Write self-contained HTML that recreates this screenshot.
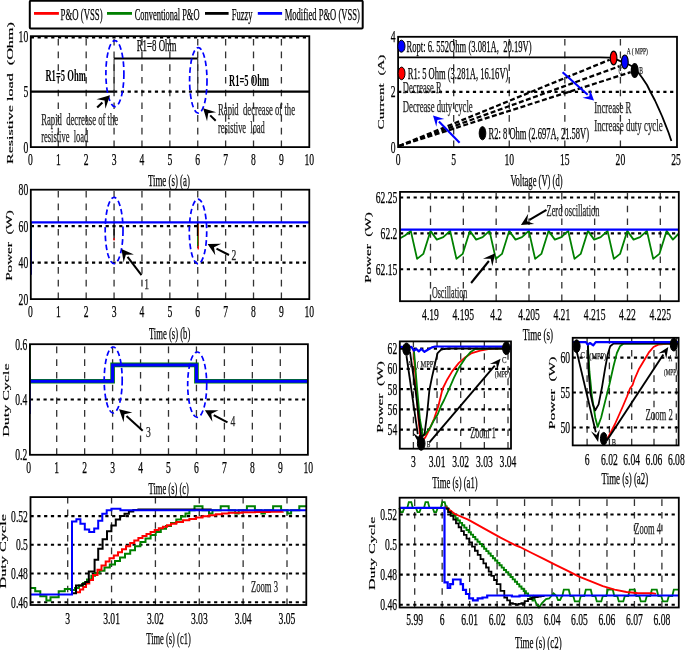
<!DOCTYPE html><html><head><meta charset="utf-8"><style>html,body{margin:0;padding:0;background:#fff;}svg{display:block;will-change:transform;}text{font-family:"Liberation Serif", serif;white-space:pre;}</style></head><body>
<svg width="685" height="650" viewBox="0 0 685 650">
<rect width="685" height="650" fill="#fff"/>
<rect x="29.8" y="0.8" width="332.9" height="27.8" rx="1" fill="#fff" stroke="#000" stroke-width="2"/>
<line x1="34" y1="13.4" x2="58.9" y2="13.4" stroke="#f00" stroke-width="2.8" stroke-linecap="butt"/>
<text x="60.6" y="20.1" font-size="16" font-weight="normal" fill="#000" stroke="#000" stroke-width="0.25" textLength="42" lengthAdjust="spacingAndGlyphs">P&amp;O (VSS)</text>
<line x1="107" y1="13.4" x2="132" y2="13.4" stroke="#008000" stroke-width="2.8" stroke-linecap="butt"/>
<text x="134.7" y="20.1" font-size="16" font-weight="normal" fill="#000" stroke="#000" stroke-width="0.25" textLength="64.8" lengthAdjust="spacingAndGlyphs">Conventional P&amp;O</text>
<line x1="205" y1="13.4" x2="228.6" y2="13.4" stroke="#000" stroke-width="2.8" stroke-linecap="butt"/>
<text x="231.8" y="20.1" font-size="16" font-weight="normal" fill="#000" stroke="#000" stroke-width="0.25" textLength="20.8" lengthAdjust="spacingAndGlyphs">Fuzzy</text>
<line x1="257.8" y1="13.4" x2="282.1" y2="13.4" stroke="#00f" stroke-width="2.8" stroke-linecap="butt"/>
<text x="284.7" y="20.1" font-size="16" font-weight="normal" fill="#000" stroke="#000" stroke-width="0.25" textLength="75.1" lengthAdjust="spacingAndGlyphs">Modified P&amp;O (VSS)</text>
<line x1="58.29" y1="147.1" x2="58.29" y2="36.2" stroke="#333" stroke-width="1.3" stroke-dasharray="6.6 6.1" stroke-linecap="butt"/>
<line x1="86.18" y1="147.1" x2="86.18" y2="36.2" stroke="#333" stroke-width="1.3" stroke-dasharray="6.6 6.1" stroke-linecap="butt"/>
<line x1="114.07" y1="147.1" x2="114.07" y2="36.2" stroke="#333" stroke-width="1.3" stroke-dasharray="6.6 6.1" stroke-linecap="butt"/>
<line x1="141.96" y1="147.1" x2="141.96" y2="36.2" stroke="#333" stroke-width="1.3" stroke-dasharray="6.6 6.1" stroke-linecap="butt"/>
<line x1="169.85" y1="147.1" x2="169.85" y2="36.2" stroke="#333" stroke-width="1.3" stroke-dasharray="6.6 6.1" stroke-linecap="butt"/>
<line x1="197.74" y1="147.1" x2="197.74" y2="36.2" stroke="#333" stroke-width="1.3" stroke-dasharray="6.6 6.1" stroke-linecap="butt"/>
<line x1="225.63" y1="147.1" x2="225.63" y2="36.2" stroke="#333" stroke-width="1.3" stroke-dasharray="6.6 6.1" stroke-linecap="butt"/>
<line x1="253.52" y1="147.1" x2="253.52" y2="36.2" stroke="#333" stroke-width="1.3" stroke-dasharray="6.6 6.1" stroke-linecap="butt"/>
<line x1="281.41" y1="147.1" x2="281.41" y2="36.2" stroke="#333" stroke-width="1.3" stroke-dasharray="6.6 6.1" stroke-linecap="butt"/>
<line x1="114.07" y1="91.65" x2="197.74" y2="91.65" stroke="#000" stroke-width="2.1" stroke-dasharray="3.2 3.6" stroke-linecap="butt"/>
<line x1="30.8" y1="37.8" x2="309.3" y2="37.8" stroke="#000" stroke-width="1.6" stroke-dasharray="3.2 3.6" stroke-linecap="butt"/>
<line x1="30.8" y1="91.65" x2="114.07" y2="91.65" stroke="#000" stroke-width="2.2" stroke-linecap="butt"/>
<line x1="114.07" y1="91.65" x2="114.07" y2="58.38" stroke="#333" stroke-width="1.1" stroke-linecap="butt"/>
<line x1="114.07" y1="58.38" x2="197.74" y2="58.38" stroke="#000" stroke-width="2" stroke-linecap="butt"/>
<line x1="197.74" y1="58.38" x2="197.74" y2="91.65" stroke="#333" stroke-width="1.1" stroke-linecap="butt"/>
<line x1="197.74" y1="91.65" x2="309.3" y2="91.65" stroke="#000" stroke-width="2.2" stroke-linecap="butt"/>
<rect x="30.8" y="36.2" width="278.5" height="110.9" fill="none" stroke="#000" stroke-width="1.8"/>
<ellipse cx="114.9" cy="73.6" rx="9" ry="33" fill="none" stroke="#00f" stroke-width="1.7" stroke-dasharray="5.5 3.2"/>
<ellipse cx="198.3" cy="80.4" rx="8.7" ry="32.8" fill="none" stroke="#00f" stroke-width="1.7" stroke-dasharray="5.5 3.2"/>
<line x1="97.2" y1="107.5" x2="102.4" y2="102.54" stroke="#000" stroke-width="2.2" stroke-linecap="butt"/>
<polygon points="110,95.3 105.44,108.63 104.57,100.47 96.47,99.22" fill="#000"/>
<line x1="215.7" y1="120.8" x2="210.2" y2="115.34" stroke="#000" stroke-width="2" stroke-linecap="butt"/>
<polygon points="203.1,108.3 216.2,112.14 208.21,113.37 207.04,121.37" fill="#000"/>
<text x="45.4" y="80.7" font-size="16" font-weight="bold" fill="#000" textLength="40.4" lengthAdjust="spacingAndGlyphs">R1=5 Ohm</text>
<g stroke="#000" stroke-width="0.3">
<text x="136.7" y="51" font-size="16" font-weight="normal" fill="#000" stroke="#000" stroke-width="0.25" textLength="39.7" lengthAdjust="spacingAndGlyphs">R1=8 Ohm</text>
</g>
<text x="229.1" y="85.7" font-size="16" font-weight="bold" fill="#000" textLength="39.9" lengthAdjust="spacingAndGlyphs">R1=5 Ohm</text>
<text x="41.2" y="124.5" font-size="16" font-weight="normal" fill="#222" stroke="#222" stroke-width="0.25" textLength="76.9" lengthAdjust="spacingAndGlyphs">Rapid&#160;&#160;decrease of the</text>
<text x="41.2" y="141.8" font-size="16" font-weight="normal" fill="#222" stroke="#222" stroke-width="0.25" textLength="47.1" lengthAdjust="spacingAndGlyphs">resistive&#160;&#160;load</text>
<text x="218" y="114.5" font-size="16" font-weight="normal" fill="#222" stroke="#222" stroke-width="0.25" textLength="77" lengthAdjust="spacingAndGlyphs">Rapid&#160;&#160;decrease of the</text>
<text x="218" y="133.3" font-size="16" font-weight="normal" fill="#222" stroke="#222" stroke-width="0.25" textLength="46.8" lengthAdjust="spacingAndGlyphs">resistive&#160;&#160;load</text>
<text x="28" y="164.9" font-size="16" font-weight="normal" fill="#000" stroke="#000" stroke-width="0.25" textLength="4.8" lengthAdjust="spacingAndGlyphs">0</text>
<text x="55.89" y="164.9" font-size="16" font-weight="normal" fill="#000" stroke="#000" stroke-width="0.25" textLength="4.8" lengthAdjust="spacingAndGlyphs">1</text>
<text x="83.78" y="164.9" font-size="16" font-weight="normal" fill="#000" stroke="#000" stroke-width="0.25" textLength="4.8" lengthAdjust="spacingAndGlyphs">2</text>
<text x="111.67" y="164.9" font-size="16" font-weight="normal" fill="#000" stroke="#000" stroke-width="0.25" textLength="4.8" lengthAdjust="spacingAndGlyphs">3</text>
<text x="139.56" y="164.9" font-size="16" font-weight="normal" fill="#000" stroke="#000" stroke-width="0.25" textLength="4.8" lengthAdjust="spacingAndGlyphs">4</text>
<text x="167.45" y="164.9" font-size="16" font-weight="normal" fill="#000" stroke="#000" stroke-width="0.25" textLength="4.8" lengthAdjust="spacingAndGlyphs">5</text>
<text x="195.34" y="164.9" font-size="16" font-weight="normal" fill="#000" stroke="#000" stroke-width="0.25" textLength="4.8" lengthAdjust="spacingAndGlyphs">6</text>
<text x="223.23" y="164.9" font-size="16" font-weight="normal" fill="#000" stroke="#000" stroke-width="0.25" textLength="4.8" lengthAdjust="spacingAndGlyphs">7</text>
<text x="251.12" y="164.9" font-size="16" font-weight="normal" fill="#000" stroke="#000" stroke-width="0.25" textLength="4.8" lengthAdjust="spacingAndGlyphs">8</text>
<text x="279.01" y="164.9" font-size="16" font-weight="normal" fill="#000" stroke="#000" stroke-width="0.25" textLength="4.8" lengthAdjust="spacingAndGlyphs">9</text>
<text x="304.5" y="164.9" font-size="16" font-weight="normal" fill="#000" stroke="#000" stroke-width="0.25" textLength="9.6" lengthAdjust="spacingAndGlyphs">10</text>
<text x="23.4" y="152.5" font-size="16" font-weight="normal" fill="#000" stroke="#000" stroke-width="0.25" textLength="4.8" lengthAdjust="spacingAndGlyphs">0</text>
<text x="23.4" y="97.05" font-size="16" font-weight="normal" fill="#000" stroke="#000" stroke-width="0.25" textLength="4.8" lengthAdjust="spacingAndGlyphs">5</text>
<text x="18.6" y="41.6" font-size="16" font-weight="normal" fill="#000" stroke="#000" stroke-width="0.25" textLength="9.6" lengthAdjust="spacingAndGlyphs">10</text>
<text x="147.9" y="185.8" font-size="16" font-weight="normal" fill="#000" stroke="#000" stroke-width="0.25" textLength="42" lengthAdjust="spacingAndGlyphs">Time (s) (a)</text>
<text transform="translate(13,164.1) scale(0.47,1) rotate(-90)" x="0" y="0" font-size="16" font-weight="normal" stroke="#000" stroke-width="0.3" textLength="141.9" lengthAdjust="spacingAndGlyphs">Resistive&#160;load&#160;&#160;(Ohm)</text>
<line x1="58.29" y1="299.1" x2="58.29" y2="189.7" stroke="#333" stroke-width="1.3" stroke-dasharray="6.6 6.1" stroke-linecap="butt"/>
<line x1="86.18" y1="299.1" x2="86.18" y2="189.7" stroke="#333" stroke-width="1.3" stroke-dasharray="6.6 6.1" stroke-linecap="butt"/>
<line x1="114.07" y1="299.1" x2="114.07" y2="189.7" stroke="#333" stroke-width="1.3" stroke-dasharray="6.6 6.1" stroke-linecap="butt"/>
<line x1="141.96" y1="299.1" x2="141.96" y2="189.7" stroke="#333" stroke-width="1.3" stroke-dasharray="6.6 6.1" stroke-linecap="butt"/>
<line x1="169.85" y1="299.1" x2="169.85" y2="189.7" stroke="#333" stroke-width="1.3" stroke-dasharray="6.6 6.1" stroke-linecap="butt"/>
<line x1="197.74" y1="299.1" x2="197.74" y2="189.7" stroke="#333" stroke-width="1.3" stroke-dasharray="6.6 6.1" stroke-linecap="butt"/>
<line x1="225.63" y1="299.1" x2="225.63" y2="189.7" stroke="#333" stroke-width="1.3" stroke-dasharray="6.6 6.1" stroke-linecap="butt"/>
<line x1="253.52" y1="299.1" x2="253.52" y2="189.7" stroke="#333" stroke-width="1.3" stroke-dasharray="6.6 6.1" stroke-linecap="butt"/>
<line x1="281.41" y1="299.1" x2="281.41" y2="189.7" stroke="#333" stroke-width="1.3" stroke-dasharray="6.6 6.1" stroke-linecap="butt"/>
<line x1="30.8" y1="262.63" x2="309.3" y2="262.63" stroke="#000" stroke-width="2.1" stroke-dasharray="3.2 3.6" stroke-linecap="butt"/>
<line x1="30.8" y1="226.17" x2="309.3" y2="226.17" stroke="#000" stroke-width="2.1" stroke-dasharray="3.2 3.6" stroke-linecap="butt"/>
<line x1="114.07" y1="222.3" x2="114.07" y2="240" stroke="#000" stroke-width="1.3" stroke-linecap="butt"/>
<line x1="114.07" y1="238" x2="114.07" y2="240.5" stroke="#f00" stroke-width="1.3" stroke-linecap="butt"/>
<line x1="198.24" y1="222.3" x2="198.24" y2="249.4" stroke="#f00" stroke-width="1.3" stroke-linecap="butt"/>
<line x1="197.74" y1="222.3" x2="197.74" y2="246" stroke="#008000" stroke-width="1.3" stroke-linecap="butt"/>
<line x1="197.44" y1="222.3" x2="197.44" y2="236" stroke="#000" stroke-width="1.2" stroke-linecap="butt"/>
<line x1="31.2" y1="274.7" x2="31.2" y2="222.3" stroke="#00f" stroke-width="1.3" stroke-linecap="butt"/>
<line x1="31.2" y1="222.3" x2="31.2" y2="249" stroke="#1a5a6a" stroke-width="1.3" stroke-linecap="butt"/>
<line x1="30.8" y1="222.3" x2="309.3" y2="222.3" stroke="#00f" stroke-width="2.2" stroke-linecap="butt"/>
<rect x="30.8" y="189.7" width="278.5" height="109.4" fill="none" stroke="#000" stroke-width="1.8"/>
<ellipse cx="114.1" cy="230.5" rx="8.9" ry="33.2" fill="none" stroke="#00f" stroke-width="1.7" stroke-dasharray="5.5 3.2"/>
<ellipse cx="198" cy="231.5" rx="8.7" ry="32.3" fill="none" stroke="#00f" stroke-width="1.7" stroke-dasharray="5.5 3.2"/>
<line x1="141.5" y1="275.2" x2="127.55" y2="256.86" stroke="#000" stroke-width="2" stroke-linecap="butt"/>
<polygon points="121.5,248.9 133.94,254.52 125.86,254.63 123.59,262.39" fill="#000"/>
<line x1="229" y1="255" x2="216.49" y2="248.57" stroke="#000" stroke-width="2" stroke-linecap="butt"/>
<polygon points="207.6,244 221.24,243.7 214,247.29 215.3,255.27" fill="#000"/>
<text x="144.2" y="289.2" font-size="15" font-weight="normal" fill="#222" stroke="#222" stroke-width="0.25" textLength="4.8" lengthAdjust="spacingAndGlyphs">1</text>
<text x="231.6" y="259.5" font-size="15" font-weight="normal" fill="#222" stroke="#222" stroke-width="0.25" textLength="4.8" lengthAdjust="spacingAndGlyphs">2</text>
<text x="28" y="316.9" font-size="16" font-weight="normal" fill="#000" stroke="#000" stroke-width="0.25" textLength="4.8" lengthAdjust="spacingAndGlyphs">0</text>
<text x="55.89" y="316.9" font-size="16" font-weight="normal" fill="#000" stroke="#000" stroke-width="0.25" textLength="4.8" lengthAdjust="spacingAndGlyphs">1</text>
<text x="83.78" y="316.9" font-size="16" font-weight="normal" fill="#000" stroke="#000" stroke-width="0.25" textLength="4.8" lengthAdjust="spacingAndGlyphs">2</text>
<text x="111.67" y="316.9" font-size="16" font-weight="normal" fill="#000" stroke="#000" stroke-width="0.25" textLength="4.8" lengthAdjust="spacingAndGlyphs">3</text>
<text x="139.56" y="316.9" font-size="16" font-weight="normal" fill="#000" stroke="#000" stroke-width="0.25" textLength="4.8" lengthAdjust="spacingAndGlyphs">4</text>
<text x="167.45" y="316.9" font-size="16" font-weight="normal" fill="#000" stroke="#000" stroke-width="0.25" textLength="4.8" lengthAdjust="spacingAndGlyphs">5</text>
<text x="195.34" y="316.9" font-size="16" font-weight="normal" fill="#000" stroke="#000" stroke-width="0.25" textLength="4.8" lengthAdjust="spacingAndGlyphs">6</text>
<text x="223.23" y="316.9" font-size="16" font-weight="normal" fill="#000" stroke="#000" stroke-width="0.25" textLength="4.8" lengthAdjust="spacingAndGlyphs">7</text>
<text x="251.12" y="316.9" font-size="16" font-weight="normal" fill="#000" stroke="#000" stroke-width="0.25" textLength="4.8" lengthAdjust="spacingAndGlyphs">8</text>
<text x="279.01" y="316.9" font-size="16" font-weight="normal" fill="#000" stroke="#000" stroke-width="0.25" textLength="4.8" lengthAdjust="spacingAndGlyphs">9</text>
<text x="304.5" y="316.9" font-size="16" font-weight="normal" fill="#000" stroke="#000" stroke-width="0.25" textLength="9.6" lengthAdjust="spacingAndGlyphs">10</text>
<text x="18.6" y="304.5" font-size="16" font-weight="normal" fill="#000" stroke="#000" stroke-width="0.25" textLength="9.6" lengthAdjust="spacingAndGlyphs">20</text>
<text x="18.6" y="268.03" font-size="16" font-weight="normal" fill="#000" stroke="#000" stroke-width="0.25" textLength="9.6" lengthAdjust="spacingAndGlyphs">40</text>
<text x="18.6" y="231.57" font-size="16" font-weight="normal" fill="#000" stroke="#000" stroke-width="0.25" textLength="9.6" lengthAdjust="spacingAndGlyphs">60</text>
<text x="18.6" y="195.1" font-size="16" font-weight="normal" fill="#000" stroke="#000" stroke-width="0.25" textLength="9.6" lengthAdjust="spacingAndGlyphs">80</text>
<text x="148.9" y="338.6" font-size="16" font-weight="normal" fill="#000" stroke="#000" stroke-width="0.25" textLength="41.4" lengthAdjust="spacingAndGlyphs">Time (s) (b)</text>
<text transform="translate(12.2,280.8) scale(0.47,1) rotate(-90)" x="0" y="0" font-size="16" font-weight="normal" stroke="#000" stroke-width="0.3" textLength="70.6" lengthAdjust="spacingAndGlyphs">Power&#160;&#160;(W)</text>
<line x1="56.7" y1="454.8" x2="56.7" y2="344.2" stroke="#333" stroke-width="1.3" stroke-dasharray="6.6 6.1" stroke-linecap="butt"/>
<line x1="84.65" y1="454.8" x2="84.65" y2="344.2" stroke="#333" stroke-width="1.3" stroke-dasharray="6.6 6.1" stroke-linecap="butt"/>
<line x1="112.6" y1="454.8" x2="112.6" y2="344.2" stroke="#333" stroke-width="1.3" stroke-dasharray="6.6 6.1" stroke-linecap="butt"/>
<line x1="140.55" y1="454.8" x2="140.55" y2="344.2" stroke="#333" stroke-width="1.3" stroke-dasharray="6.6 6.1" stroke-linecap="butt"/>
<line x1="168.5" y1="454.8" x2="168.5" y2="344.2" stroke="#333" stroke-width="1.3" stroke-dasharray="6.6 6.1" stroke-linecap="butt"/>
<line x1="196.45" y1="454.8" x2="196.45" y2="344.2" stroke="#333" stroke-width="1.3" stroke-dasharray="6.6 6.1" stroke-linecap="butt"/>
<line x1="224.4" y1="454.8" x2="224.4" y2="344.2" stroke="#333" stroke-width="1.3" stroke-dasharray="6.6 6.1" stroke-linecap="butt"/>
<line x1="252.35" y1="454.8" x2="252.35" y2="344.2" stroke="#333" stroke-width="1.3" stroke-dasharray="6.6 6.1" stroke-linecap="butt"/>
<line x1="280.3" y1="454.8" x2="280.3" y2="344.2" stroke="#333" stroke-width="1.3" stroke-dasharray="6.6 6.1" stroke-linecap="butt"/>
<line x1="29.9" y1="399.5" x2="307.9" y2="399.5" stroke="#000" stroke-width="2.1" stroke-dasharray="3.2 3.6" stroke-linecap="butt"/>
<polyline points="29.9,381.2 112.6,381.2 112.6,364.9 196.45,364.9 196.45,381.2 307.9,381.2" fill="none" stroke="#008000" stroke-width="4.6" stroke-linejoin="miter"/>
<line x1="197.25" y1="366" x2="197.25" y2="380" stroke="#f00" stroke-width="1" stroke-linecap="butt"/>
<polyline points="29.9,381.3 112.6,381.3 112.6,365.1 196.45,365.1 196.45,381.3 307.9,381.3" fill="none" stroke="#00f" stroke-width="3" stroke-linejoin="miter"/>
<line x1="30.1" y1="414" x2="30.1" y2="373.5" stroke="#00f" stroke-width="1.3" stroke-linecap="butt"/>
<line x1="30.1" y1="345" x2="30.1" y2="379" stroke="#008000" stroke-width="1.3" stroke-linecap="butt"/>
<rect x="29.9" y="344.2" width="278" height="110.6" fill="none" stroke="#000" stroke-width="1.8"/>
<ellipse cx="113.2" cy="380" rx="9" ry="33" fill="none" stroke="#00f" stroke-width="1.7" stroke-dasharray="5.5 3.2"/>
<ellipse cx="197.2" cy="384.7" rx="9.5" ry="32.7" fill="none" stroke="#00f" stroke-width="1.7" stroke-dasharray="5.5 3.2"/>
<line x1="142.7" y1="430.8" x2="126.49" y2="416.03" stroke="#000" stroke-width="2" stroke-linecap="butt"/>
<polygon points="119.1,409.3 132.35,412.58 124.42,414.15 123.59,422.19" fill="#000"/>
<line x1="227.5" y1="422.4" x2="213.72" y2="415.02" stroke="#000" stroke-width="2" stroke-linecap="butt"/>
<polygon points="204.9,410.3 218.55,410.23 211.25,413.7 212.41,421.69" fill="#000"/>
<text x="146" y="436.6" font-size="15" font-weight="normal" fill="#222" stroke="#222" stroke-width="0.25" textLength="4.8" lengthAdjust="spacingAndGlyphs">3</text>
<text x="230.6" y="426" font-size="15" font-weight="normal" fill="#222" stroke="#222" stroke-width="0.25" textLength="4.8" lengthAdjust="spacingAndGlyphs">4</text>
<text x="26.35" y="472.6" font-size="16" font-weight="normal" fill="#000" stroke="#000" stroke-width="0.25" textLength="4.8" lengthAdjust="spacingAndGlyphs">0</text>
<text x="54.3" y="472.6" font-size="16" font-weight="normal" fill="#000" stroke="#000" stroke-width="0.25" textLength="4.8" lengthAdjust="spacingAndGlyphs">1</text>
<text x="82.25" y="472.6" font-size="16" font-weight="normal" fill="#000" stroke="#000" stroke-width="0.25" textLength="4.8" lengthAdjust="spacingAndGlyphs">2</text>
<text x="110.2" y="472.6" font-size="16" font-weight="normal" fill="#000" stroke="#000" stroke-width="0.25" textLength="4.8" lengthAdjust="spacingAndGlyphs">3</text>
<text x="138.15" y="472.6" font-size="16" font-weight="normal" fill="#000" stroke="#000" stroke-width="0.25" textLength="4.8" lengthAdjust="spacingAndGlyphs">4</text>
<text x="166.1" y="472.6" font-size="16" font-weight="normal" fill="#000" stroke="#000" stroke-width="0.25" textLength="4.8" lengthAdjust="spacingAndGlyphs">5</text>
<text x="194.05" y="472.6" font-size="16" font-weight="normal" fill="#000" stroke="#000" stroke-width="0.25" textLength="4.8" lengthAdjust="spacingAndGlyphs">6</text>
<text x="222" y="472.6" font-size="16" font-weight="normal" fill="#000" stroke="#000" stroke-width="0.25" textLength="4.8" lengthAdjust="spacingAndGlyphs">7</text>
<text x="249.95" y="472.6" font-size="16" font-weight="normal" fill="#000" stroke="#000" stroke-width="0.25" textLength="4.8" lengthAdjust="spacingAndGlyphs">8</text>
<text x="277.9" y="472.6" font-size="16" font-weight="normal" fill="#000" stroke="#000" stroke-width="0.25" textLength="4.8" lengthAdjust="spacingAndGlyphs">9</text>
<text x="303.45" y="472.6" font-size="16" font-weight="normal" fill="#000" stroke="#000" stroke-width="0.25" textLength="9.6" lengthAdjust="spacingAndGlyphs">10</text>
<text x="15.3" y="460.2" font-size="16" font-weight="normal" fill="#000" stroke="#000" stroke-width="0.25" textLength="12" lengthAdjust="spacingAndGlyphs">0.2</text>
<text x="15.3" y="404.9" font-size="16" font-weight="normal" fill="#000" stroke="#000" stroke-width="0.25" textLength="12" lengthAdjust="spacingAndGlyphs">0.4</text>
<text x="15.3" y="349.6" font-size="16" font-weight="normal" fill="#000" stroke="#000" stroke-width="0.25" textLength="12" lengthAdjust="spacingAndGlyphs">0.6</text>
<text x="148.5" y="493.7" font-size="16" font-weight="normal" fill="#000" stroke="#000" stroke-width="0.25" textLength="40.4" lengthAdjust="spacingAndGlyphs">Time (s) (c)</text>
<text transform="translate(8.7,436.8) scale(0.47,1) rotate(-90)" x="0" y="0" font-size="16" font-weight="normal" stroke="#000" stroke-width="0.3" textLength="73.3" lengthAdjust="spacingAndGlyphs">Duty&#160;Cycle</text>
<line x1="67.7" y1="605" x2="67.7" y2="497.1" stroke="#333" stroke-width="1.3" stroke-dasharray="6.6 6.1" stroke-linecap="butt"/>
<line x1="111.56" y1="605" x2="111.56" y2="497.1" stroke="#333" stroke-width="1.3" stroke-dasharray="6.6 6.1" stroke-linecap="butt"/>
<line x1="155.42" y1="605" x2="155.42" y2="497.1" stroke="#333" stroke-width="1.3" stroke-dasharray="6.6 6.1" stroke-linecap="butt"/>
<line x1="199.28" y1="605" x2="199.28" y2="497.1" stroke="#333" stroke-width="1.3" stroke-dasharray="6.6 6.1" stroke-linecap="butt"/>
<line x1="243.14" y1="605" x2="243.14" y2="497.1" stroke="#333" stroke-width="1.3" stroke-dasharray="6.6 6.1" stroke-linecap="butt"/>
<line x1="287" y1="605" x2="287" y2="497.1" stroke="#333" stroke-width="1.3" stroke-dasharray="6.6 6.1" stroke-linecap="butt"/>
<line x1="30.5" y1="602.2" x2="306.3" y2="602.2" stroke="#000" stroke-width="2.1" stroke-dasharray="3.2 3.6" stroke-linecap="butt"/>
<line x1="30.5" y1="573.5" x2="306.3" y2="573.5" stroke="#000" stroke-width="2.1" stroke-dasharray="3.2 3.6" stroke-linecap="butt"/>
<line x1="30.5" y1="544.8" x2="306.3" y2="544.8" stroke="#000" stroke-width="2.1" stroke-dasharray="3.2 3.6" stroke-linecap="butt"/>
<line x1="30.5" y1="516.1" x2="306.3" y2="516.1" stroke="#000" stroke-width="2.1" stroke-dasharray="3.2 3.6" stroke-linecap="butt"/>
<polyline points="30.6,588.1 35.2,588.1 35.2,591.2 40.3,591.2 40.3,596.3 46.4,596.3 46.4,600.4 50.5,600.4 50.5,597.3 58.7,597.3 58.7,591.2 64.8,591.2 64.8,589.1 70.9,589.1 70.9,590.1 75,590.1 75,588.1 79,588.1 79,585.5 83.2,585.5 83.2,583 87,583 87,579.5 91.4,579.5 91.4,575.8 95,575.8 95,573 99.5,573 99.5,570.7 104.5,570.7 104.5,567.5 109.8,567.5 109.8,564.6 115,564.6 115,561 120,561 120,557.4 125,557.4 125,553.8 130.2,553.8 130.2,550.3 135,550.3 135,546.2 140.4,546.2 140.4,542.1 145.5,542.1 145.5,538.5 150.6,538.5 150.6,535 155.7,535 155.7,531.9 160.8,531.9 160.8,528.8 166,528.8 166,526 171,526 171,523 176.3,523 176.3,519.4 181,519.4 181,516.5 185.5,516.5 185.5,513.5 189.4,513.5 189.4,510.2 194.5,510.2 194.5,506.3 202.5,506.3 202.5,510.2 209,510.2 209,513.6 212.5,513.6 212.5,510.2 220.7,510.2 220.7,506.3 228.7,506.3 228.7,510.2 235.2,510.2 235.2,513.6 238.7,513.6 238.7,510.2 246.9,510.2 246.9,506.3 254.9,506.3 254.9,510.2 261.4,510.2 261.4,513.6 264.9,513.6 264.9,510.2 273.1,510.2 273.1,506.3 281.1,506.3 281.1,510.2 287.6,510.2 287.6,513.6 291.1,513.6 291.1,510.2 299.3,510.2 299.3,506.3 306.3,506.3 306.3,506.3" fill="none" stroke="#008000" stroke-width="2" stroke-linejoin="miter"/>
<polyline points="77,592.2 80,592.2 80,589.5 83.2,589.5 83.2,587.1 86,587.1 86,583.5 89.3,583.5 89.3,580 93,580 93,575 97.5,575 97.5,569.7 101.5,569.7 101.5,565.5 105.7,565.5 105.7,561.5 109.5,561.5 109.5,558.3 113.8,558.3 113.8,555.4 118,555.4 118,552.3 122,552.3 122,549.3 126,549.3 126,546.2 130.2,546.2 130.2,543.1 134.3,543.1 134.3,540.5 138.4,540.5 138.4,538 142.5,538 142.5,536 146.5,536 146.5,533.9 150.6,533.9 150.6,532 154.7,532 154.7,529.9 158.8,529.9 158.8,528.2 162.9,528.2 162.9,526.8 167,526.8 167,525.2 171,525.2 171,523.8 176.3,523.8 176.3,522 183,522 183,520.3 189.4,520.3 189.4,518.9 196,518.9 196,517.5 202.5,517.5 202.5,516.3 209,516.3 209,515.2 215.7,515.2 215.7,514.2 222,514.2 222,513.4 228.8,513.4 228.8,512.8 242,512.8 242,512.3 255.1,512.3 255.1,512 270,512 270,511.7 282.7,511.7 282.7,511.5" fill="none" stroke="#f00" stroke-width="2" stroke-linejoin="miter"/>
<polyline points="72.6,593.2 76,593.2 76,585.6 82.2,585.6 82.2,584 85.2,584 85.2,582 88.8,582 88.8,571.4 94.6,571.4 94.6,559.7 98.2,559.7 98.2,548.8 102.6,548.8 102.6,539.3 107,539.3 107,531.3 111.4,531.3 111.4,525.4 115.8,525.4 115.8,519.6 120.1,519.6 120.1,516 124.5,516 124.5,513.8 128.9,513.8 128.9,511.6 133.3,511.6 133.3,510.1 138.4,510.1 138.4,509.4 211.7,509.4 211.7,509.4" fill="none" stroke="#000" stroke-width="2" stroke-linejoin="miter"/>
<polyline points="30.6,594.6 72,594.6 72,594.6 72,594.6 72,521.6 76.4,521.6 76.4,519.3 80.4,519.3 80.4,523.7 84.8,523.7 84.8,529.5 89.2,529.5 89.2,531.9 94.2,531.9 94.2,528.6 98.2,528.6 98.2,520.7 102.3,520.7 102.3,513.7 106.7,513.7 106.7,510.2 111.4,510.2 111.4,508.8 120.4,508.8 120.4,510.3 306.3,510.3 306.3,510.3" fill="none" stroke="#00f" stroke-width="2" stroke-linejoin="miter"/>
<rect x="30.5" y="497.1" width="275.8" height="107.9" fill="none" stroke="#000" stroke-width="1.8"/>
<text x="65.3" y="624.2" font-size="16" font-weight="normal" fill="#000" stroke="#000" stroke-width="0.25" textLength="4.8" lengthAdjust="spacingAndGlyphs">3</text>
<text x="103.16" y="624.2" font-size="16" font-weight="normal" fill="#000" stroke="#000" stroke-width="0.25" textLength="16.8" lengthAdjust="spacingAndGlyphs">3.01</text>
<text x="147.02" y="624.2" font-size="16" font-weight="normal" fill="#000" stroke="#000" stroke-width="0.25" textLength="16.8" lengthAdjust="spacingAndGlyphs">3.02</text>
<text x="190.88" y="624.2" font-size="16" font-weight="normal" fill="#000" stroke="#000" stroke-width="0.25" textLength="16.8" lengthAdjust="spacingAndGlyphs">3.03</text>
<text x="234.74" y="624.2" font-size="16" font-weight="normal" fill="#000" stroke="#000" stroke-width="0.25" textLength="16.8" lengthAdjust="spacingAndGlyphs">3.04</text>
<text x="278.6" y="624.2" font-size="16" font-weight="normal" fill="#000" stroke="#000" stroke-width="0.25" textLength="16.8" lengthAdjust="spacingAndGlyphs">3.05</text>
<text x="11.1" y="607.6" font-size="16" font-weight="normal" fill="#000" stroke="#000" stroke-width="0.25" textLength="16.8" lengthAdjust="spacingAndGlyphs">0.46</text>
<text x="11.1" y="578.9" font-size="16" font-weight="normal" fill="#000" stroke="#000" stroke-width="0.25" textLength="16.8" lengthAdjust="spacingAndGlyphs">0.48</text>
<text x="15.9" y="550.2" font-size="16" font-weight="normal" fill="#000" stroke="#000" stroke-width="0.25" textLength="12" lengthAdjust="spacingAndGlyphs">0.5</text>
<text x="11.1" y="521.5" font-size="16" font-weight="normal" fill="#000" stroke="#000" stroke-width="0.25" textLength="16.8" lengthAdjust="spacingAndGlyphs">0.52</text>
<text x="251" y="591.5" font-size="16" font-weight="normal" fill="#222" stroke="#222" stroke-width="0.25" textLength="27" lengthAdjust="spacingAndGlyphs">Zoom 3</text>
<text x="146.3" y="643.8" font-size="16" font-weight="normal" fill="#000" stroke="#000" stroke-width="0.25" textLength="44.4" lengthAdjust="spacingAndGlyphs">Time (s) (c1)</text>
<text transform="translate(6,588.5) scale(0.47,1) rotate(-90)" x="0" y="0" font-size="16" font-weight="normal" stroke="#000" stroke-width="0.3" textLength="74.5" lengthAdjust="spacingAndGlyphs">Duty&#160;Cycle</text>
<line x1="453.68" y1="147.1" x2="453.68" y2="36.8" stroke="#333" stroke-width="1.3" stroke-dasharray="6.6 6.1" stroke-linecap="butt"/>
<line x1="509.26" y1="147.1" x2="509.26" y2="36.8" stroke="#333" stroke-width="1.3" stroke-dasharray="6.6 6.1" stroke-linecap="butt"/>
<line x1="564.84" y1="147.1" x2="564.84" y2="36.8" stroke="#333" stroke-width="1.3" stroke-dasharray="6.6 6.1" stroke-linecap="butt"/>
<line x1="620.42" y1="147.1" x2="620.42" y2="36.8" stroke="#333" stroke-width="1.3" stroke-dasharray="6.6 6.1" stroke-linecap="butt"/>
<line x1="398.1" y1="91.9" x2="677" y2="91.9" stroke="#000" stroke-width="2.1" stroke-dasharray="3.2 3.6" stroke-linecap="butt"/>
<polyline points="399,146 609.7,59.7" fill="none" stroke="#000" stroke-width="2.3" stroke-dasharray="5 2.5" stroke-linejoin="miter"/>
<polyline points="399,146 619.6,66.2" fill="none" stroke="#000" stroke-width="2.3" stroke-dasharray="5 2.5" stroke-linejoin="miter"/>
<polyline points="399,146 630.7,72.2" fill="none" stroke="#000" stroke-width="2.3" stroke-dasharray="5 2.5" stroke-linejoin="miter"/>
<polyline points="398.1,57.4 600,57.4 610.4,57.6 616.9,59.7 621.5,61.6 628.1,64.3 632,66.2 638,72.2 642,77.5 647,85 651,93 655,100.5 658.8,108.9 662.2,116.5 665.4,124.6 668.5,132.5 671.4,141" fill="none" stroke="#000" stroke-width="1.8" stroke-linejoin="round"/>
<rect x="398.1" y="36.8" width="278.9" height="110.3" fill="none" stroke="#000" stroke-width="1.8"/>
<ellipse cx="401.4" cy="46.2" rx="3.6" ry="6" fill="#00f" stroke="#000" stroke-width="1"/>
<ellipse cx="401.6" cy="73.4" rx="3.4" ry="6.3" fill="#f00" stroke="#000" stroke-width="1"/>
<ellipse cx="482.5" cy="133.2" rx="3.3" ry="6.6" fill="#000" stroke="#000" stroke-width="1"/>
<ellipse cx="613.6" cy="58" rx="3.3" ry="6.9" fill="#f00" stroke="#000" stroke-width="1.2"/>
<ellipse cx="624.8" cy="61.9" rx="3.4" ry="6.9" fill="#00f" stroke="#000" stroke-width="1.2"/>
<ellipse cx="634.7" cy="70.6" rx="3.4" ry="6.9" fill="#000" stroke="#000" stroke-width="1.2"/>
<text x="406.5" y="51.6" font-size="16" font-weight="normal" fill="#000" stroke="#000" stroke-width="0.25" textLength="125" lengthAdjust="spacingAndGlyphs">Ropt: 6. 552Ohm (3.081A,&#160;&#160;20.19V)</text>
<text x="407.7" y="79" font-size="16" font-weight="normal" fill="#000" stroke="#000" stroke-width="0.25" textLength="100.7" lengthAdjust="spacingAndGlyphs">R1: 5 Ohm (3.281A, 16.16V)</text>
<text x="402.8" y="93" font-size="16" font-weight="normal" fill="#222" stroke="#222" stroke-width="0.25" textLength="38.8" lengthAdjust="spacingAndGlyphs">Decrease R</text>
<text x="402.8" y="111.5" font-size="16" font-weight="normal" fill="#222" stroke="#222" stroke-width="0.25" textLength="69.9" lengthAdjust="spacingAndGlyphs">Decrease duty cycle</text>
<text x="488.6" y="138.6" font-size="16" font-weight="normal" fill="#000" stroke="#000" stroke-width="0.25" textLength="100.4" lengthAdjust="spacingAndGlyphs">R2: 8 Ohm (2.697A, 21.58V)</text>
<text x="594.2" y="113" font-size="16" font-weight="normal" fill="#222" stroke="#222" stroke-width="0.25" textLength="37.2" lengthAdjust="spacingAndGlyphs">Increase R</text>
<text x="594.2" y="131.3" font-size="16" font-weight="normal" fill="#222" stroke="#222" stroke-width="0.25" textLength="68.5" lengthAdjust="spacingAndGlyphs">Increase duty cycle</text>
<text x="626.8" y="54.4" font-size="9" font-weight="normal" fill="#222" stroke="#222" stroke-width="0.25" textLength="21" lengthAdjust="spacingAndGlyphs">A ( MPP)</text>
<text x="639.3" y="73.5" font-size="10" font-weight="normal" fill="#222" stroke="#222" stroke-width="0.25" textLength="3.7" lengthAdjust="spacingAndGlyphs">B</text>
<text x="618.5" y="73.5" font-size="10" font-weight="normal" fill="#444" stroke="#444" stroke-width="0.25" textLength="3.5" lengthAdjust="spacingAndGlyphs">C</text>
<line x1="459.6" y1="142.7" x2="438.93" y2="121.49" stroke="#00f" stroke-width="2.1" stroke-linecap="butt"/>
<polygon points="433,115.4 444.34,119.01 437.4,119.91 436.32,126.83" fill="#00f"/>
<line x1="562.6" y1="72.3" x2="587.68" y2="94.82" stroke="#00f" stroke-width="2.1" stroke-linecap="butt"/>
<polygon points="594,100.5 582.45,97.65 589.31,96.29 589.93,89.32" fill="#00f"/>
<text x="395.7" y="165.3" font-size="16" font-weight="normal" fill="#000" stroke="#000" stroke-width="0.25" textLength="4.8" lengthAdjust="spacingAndGlyphs">0</text>
<text x="451.28" y="165.3" font-size="16" font-weight="normal" fill="#000" stroke="#000" stroke-width="0.25" textLength="4.8" lengthAdjust="spacingAndGlyphs">5</text>
<text x="504.46" y="165.3" font-size="16" font-weight="normal" fill="#000" stroke="#000" stroke-width="0.25" textLength="9.6" lengthAdjust="spacingAndGlyphs">10</text>
<text x="560.04" y="165.3" font-size="16" font-weight="normal" fill="#000" stroke="#000" stroke-width="0.25" textLength="9.6" lengthAdjust="spacingAndGlyphs">15</text>
<text x="615.62" y="165.3" font-size="16" font-weight="normal" fill="#000" stroke="#000" stroke-width="0.25" textLength="9.6" lengthAdjust="spacingAndGlyphs">20</text>
<text x="671.2" y="165.3" font-size="16" font-weight="normal" fill="#000" stroke="#000" stroke-width="0.25" textLength="9.6" lengthAdjust="spacingAndGlyphs">25</text>
<text x="390.7" y="152.8" font-size="16" font-weight="normal" fill="#000" stroke="#000" stroke-width="0.25" textLength="4.8" lengthAdjust="spacingAndGlyphs">0</text>
<text x="390.7" y="97.3" font-size="16" font-weight="normal" fill="#000" stroke="#000" stroke-width="0.25" textLength="4.8" lengthAdjust="spacingAndGlyphs">2</text>
<text x="390.7" y="41.8" font-size="16" font-weight="normal" fill="#000" stroke="#000" stroke-width="0.25" textLength="4.8" lengthAdjust="spacingAndGlyphs">4</text>
<text x="510.5" y="185.8" font-size="16" font-weight="normal" fill="#000" stroke="#000" stroke-width="0.25" textLength="52" lengthAdjust="spacingAndGlyphs">Voltage (V) (d)</text>
<text transform="translate(384.2,129.4) scale(0.47,1) rotate(-90)" x="0" y="0" font-size="16" font-weight="normal" stroke="#000" stroke-width="0.3" textLength="74.8" lengthAdjust="spacingAndGlyphs">Current&#160;&#160;(A)</text>
<line x1="430.5" y1="301.2" x2="430.5" y2="191.9" stroke="#333" stroke-width="1.3" stroke-dasharray="6.6 6.1" stroke-linecap="butt"/>
<line x1="463.33" y1="301.2" x2="463.33" y2="191.9" stroke="#333" stroke-width="1.3" stroke-dasharray="6.6 6.1" stroke-linecap="butt"/>
<line x1="496.16" y1="301.2" x2="496.16" y2="191.9" stroke="#333" stroke-width="1.3" stroke-dasharray="6.6 6.1" stroke-linecap="butt"/>
<line x1="528.99" y1="301.2" x2="528.99" y2="191.9" stroke="#333" stroke-width="1.3" stroke-dasharray="6.6 6.1" stroke-linecap="butt"/>
<line x1="561.81" y1="301.2" x2="561.81" y2="191.9" stroke="#333" stroke-width="1.3" stroke-dasharray="6.6 6.1" stroke-linecap="butt"/>
<line x1="594.64" y1="301.2" x2="594.64" y2="191.9" stroke="#333" stroke-width="1.3" stroke-dasharray="6.6 6.1" stroke-linecap="butt"/>
<line x1="627.47" y1="301.2" x2="627.47" y2="191.9" stroke="#333" stroke-width="1.3" stroke-dasharray="6.6 6.1" stroke-linecap="butt"/>
<line x1="660.3" y1="301.2" x2="660.3" y2="191.9" stroke="#333" stroke-width="1.3" stroke-dasharray="6.6 6.1" stroke-linecap="butt"/>
<line x1="400" y1="269.25" x2="678.8" y2="269.25" stroke="#000" stroke-width="2.1" stroke-dasharray="3.2 3.6" stroke-linecap="butt"/>
<line x1="400" y1="233.4" x2="678.8" y2="233.4" stroke="#000" stroke-width="2.1" stroke-dasharray="3.2 3.6" stroke-linecap="butt"/>
<line x1="400" y1="197.55" x2="678.8" y2="197.55" stroke="#000" stroke-width="2.1" stroke-dasharray="3.2 3.6" stroke-linecap="butt"/>
<polyline points="400.2,238.3 405,235.5 410.8,230.9 417.1,258.9 423.3,253.9 430.5,230.9 436.8,239.6 443.3,237.1 450.15,230.9 456.45,258.9 462.65,253.9 469.85,230.9 476.15,239.6 482.65,237.1 489.5,230.9 495.8,258.9 502,253.9 509.2,230.9 515.5,239.6 522,237.1 528.85,230.9 535.15,258.9 541.35,253.9 548.55,230.9 554.85,239.6 561.35,237.1 568.2,230.9 574.5,258.9 580.7,253.9 587.9,230.9 594.2,239.6 600.7,237.1 607.55,230.9 613.85,258.9 620.05,253.9 627.25,230.9 633.55,239.6 640.05,237.1 646.9,230.9 653.2,258.9 659.4,253.9 666.6,230.9 672.9,239.6 678.8,233.5" fill="none" stroke="#008000" stroke-width="1.8" stroke-linejoin="round"/>
<line x1="400" y1="229.6" x2="678.8" y2="229.6" stroke="#00f" stroke-width="2.2" stroke-linecap="butt"/>
<rect x="400" y="191.9" width="278.8" height="109.3" fill="none" stroke="#000" stroke-width="1.8"/>
<line x1="471.1" y1="283" x2="488.91" y2="260.98" stroke="#000" stroke-width="2.1" stroke-linecap="butt"/>
<polygon points="495.2,253.2 492.32,266.3 490.67,258.8 482.99,258.76" fill="#000"/>
<line x1="546.5" y1="209.9" x2="529.51" y2="219.92" stroke="#000" stroke-width="2.1" stroke-linecap="butt"/>
<polygon points="520.9,225 528.19,213.74 527.1,221.34 534.28,224.07" fill="#000"/>
<text x="431.9" y="297.5" font-size="16" font-weight="normal" fill="#222" stroke="#222" stroke-width="0.25" textLength="35.3" lengthAdjust="spacingAndGlyphs">Oscillation</text>
<text x="546.5" y="216" font-size="16" font-weight="normal" fill="#222" stroke="#222" stroke-width="0.25" textLength="52.9" lengthAdjust="spacingAndGlyphs">Zerd oscillation</text>
<text x="422.1" y="320" font-size="16" font-weight="normal" fill="#000" stroke="#000" stroke-width="0.25" textLength="16.8" lengthAdjust="spacingAndGlyphs">4.19</text>
<text x="452.53" y="320" font-size="16" font-weight="normal" fill="#000" stroke="#000" stroke-width="0.25" textLength="21.6" lengthAdjust="spacingAndGlyphs">4.195</text>
<text x="490.16" y="320" font-size="16" font-weight="normal" fill="#000" stroke="#000" stroke-width="0.25" textLength="12" lengthAdjust="spacingAndGlyphs">4.2</text>
<text x="518.19" y="320" font-size="16" font-weight="normal" fill="#000" stroke="#000" stroke-width="0.25" textLength="21.6" lengthAdjust="spacingAndGlyphs">4.205</text>
<text x="553.41" y="320" font-size="16" font-weight="normal" fill="#000" stroke="#000" stroke-width="0.25" textLength="16.8" lengthAdjust="spacingAndGlyphs">4.21</text>
<text x="583.84" y="320" font-size="16" font-weight="normal" fill="#000" stroke="#000" stroke-width="0.25" textLength="21.6" lengthAdjust="spacingAndGlyphs">4.215</text>
<text x="619.07" y="320" font-size="16" font-weight="normal" fill="#000" stroke="#000" stroke-width="0.25" textLength="16.8" lengthAdjust="spacingAndGlyphs">4.22</text>
<text x="649.5" y="320" font-size="16" font-weight="normal" fill="#000" stroke="#000" stroke-width="0.25" textLength="21.6" lengthAdjust="spacingAndGlyphs">4.225</text>
<text x="375.8" y="274.65" font-size="16" font-weight="normal" fill="#000" stroke="#000" stroke-width="0.25" textLength="21.6" lengthAdjust="spacingAndGlyphs">62.15</text>
<text x="380.6" y="238.8" font-size="16" font-weight="normal" fill="#000" stroke="#000" stroke-width="0.25" textLength="16.8" lengthAdjust="spacingAndGlyphs">62.2</text>
<text x="375.8" y="202.95" font-size="16" font-weight="normal" fill="#000" stroke="#000" stroke-width="0.25" textLength="21.6" lengthAdjust="spacingAndGlyphs">62.25</text>
<text x="522.7" y="340" font-size="16" font-weight="normal" fill="#000" stroke="#000" stroke-width="0.25" textLength="30.4" lengthAdjust="spacingAndGlyphs">Time (s)</text>
<text transform="translate(371.4,283) scale(0.47,1) rotate(-90)" x="0" y="0" font-size="16" font-weight="normal" stroke="#000" stroke-width="0.3" textLength="70.7" lengthAdjust="spacingAndGlyphs">Power&#160;&#160;(W)</text>
<line x1="413.4" y1="448.7" x2="413.4" y2="341.4" stroke="#333" stroke-width="1.3" stroke-dasharray="6.6 6.1" stroke-linecap="butt"/>
<line x1="437.05" y1="448.7" x2="437.05" y2="341.4" stroke="#333" stroke-width="1.3" stroke-dasharray="6.6 6.1" stroke-linecap="butt"/>
<line x1="460.7" y1="448.7" x2="460.7" y2="341.4" stroke="#333" stroke-width="1.3" stroke-dasharray="6.6 6.1" stroke-linecap="butt"/>
<line x1="484.35" y1="448.7" x2="484.35" y2="341.4" stroke="#333" stroke-width="1.3" stroke-dasharray="6.6 6.1" stroke-linecap="butt"/>
<line x1="508" y1="448.7" x2="508" y2="341.4" stroke="#333" stroke-width="1.3" stroke-dasharray="6.6 6.1" stroke-linecap="butt"/>
<line x1="399.8" y1="429.6" x2="511" y2="429.6" stroke="#000" stroke-width="2.1" stroke-dasharray="3.2 3.6" stroke-linecap="butt"/>
<line x1="399.8" y1="409.35" x2="511" y2="409.35" stroke="#000" stroke-width="2.1" stroke-dasharray="3.2 3.6" stroke-linecap="butt"/>
<line x1="399.8" y1="389.1" x2="511" y2="389.1" stroke="#000" stroke-width="2.1" stroke-dasharray="3.2 3.6" stroke-linecap="butt"/>
<line x1="399.8" y1="368.85" x2="511" y2="368.85" stroke="#000" stroke-width="2.1" stroke-dasharray="3.2 3.6" stroke-linecap="butt"/>
<line x1="399.8" y1="348.6" x2="511" y2="348.6" stroke="#000" stroke-width="2.1" stroke-dasharray="3.2 3.6" stroke-linecap="butt"/>
<polyline points="413.5,350 416.4,390 418.5,420 420.4,437.4 423,440 425.3,437.4 430,428 434,419 438.4,406 442.5,389 447.4,379.2 452.3,371.1 458.9,362.9 465.4,357.2 471.9,353.1 480.1,350.6 488.3,349 498.1,348.5 511,348.5" fill="none" stroke="#f00" stroke-width="1.8" stroke-linejoin="round"/>
<polyline points="413.9,349.8 417.2,390 420,420 422.9,435.8 424.5,435 430.2,427.6 433.5,421 437.6,414.5 441,406 444.1,400 449.1,389 454,377.6 458.9,367.8 465.4,358 470.3,352.3 475.2,349 490,348.5 511,348.5" fill="none" stroke="#008000" stroke-width="1.8" stroke-linejoin="round"/>
<polyline points="410,352 415.5,390 419,420 421.3,437.4 424.5,434.1 427,415 429.4,390 431.9,377.6 435.2,362.9 437.6,353.1 440.9,349.8 444.1,349 450,348.5 511,348.5" fill="none" stroke="#000" stroke-width="1.8" stroke-linejoin="round"/>
<polyline points="399.8,346.9 411.4,346.9 413.9,350.6 416.4,349 418.8,351.4 421.3,349 424.5,351.8 427.8,349.8 431.9,347.4 435.2,346.5 511,346.5" fill="none" stroke="#00f" stroke-width="2.2" stroke-linejoin="round"/>
<rect x="399.8" y="341.4" width="111.2" height="107.3" fill="none" stroke="#000" stroke-width="1.8"/>
<ellipse cx="406.5" cy="349.2" rx="3.7" ry="6.2" fill="#000" stroke="#000" stroke-width="1"/>
<ellipse cx="506.3" cy="348.2" rx="3.7" ry="6.4" fill="#000" stroke="#000" stroke-width="1"/>
<ellipse cx="421.2" cy="443.5" rx="3.8" ry="6.8" fill="#000" stroke="#000" stroke-width="1"/>
<line x1="406.5" y1="356" x2="417.77" y2="434.1" stroke="#000" stroke-width="1.8" stroke-linecap="butt"/>
<polygon points="419.2,444 413.03,432.77 418.17,436.87 421.94,431.48" fill="#000"/>
<line x1="429.4" y1="442.3" x2="494.76" y2="365.65" stroke="#000" stroke-width="1.9" stroke-linecap="butt"/>
<polygon points="500.6,358.8 497.12,370.28 496.32,363.82 489.81,364.06" fill="#000"/>
<text x="407.8" y="366.5" font-size="8" font-weight="normal" fill="#222" stroke="#222" stroke-width="0.25" textLength="3.8" lengthAdjust="spacingAndGlyphs">A</text>
<text x="416.8" y="366.5" font-size="9" font-weight="normal" fill="#222" stroke="#222" stroke-width="0.25" textLength="18.7" lengthAdjust="spacingAndGlyphs">( MPP)</text>
<text x="426.8" y="446.5" font-size="9" font-weight="normal" fill="#222" stroke="#222" stroke-width="0.25" textLength="3.6" lengthAdjust="spacingAndGlyphs">B</text>
<text x="502" y="363" font-size="9" font-weight="normal" fill="#222" stroke="#222" stroke-width="0.25" textLength="4.5" lengthAdjust="spacingAndGlyphs">C</text>
<text x="494.8" y="377" font-size="8" font-weight="normal" fill="#222" stroke="#222" stroke-width="0.25" textLength="15" lengthAdjust="spacingAndGlyphs">(MPP)</text>
<text x="470.3" y="437.8" font-size="16" font-weight="normal" fill="#222" stroke="#222" stroke-width="0.25" textLength="25.4" lengthAdjust="spacingAndGlyphs">Zoom 1</text>
<text x="411" y="467.3" font-size="16" font-weight="normal" fill="#000" stroke="#000" stroke-width="0.25" textLength="4.8" lengthAdjust="spacingAndGlyphs">3</text>
<text x="428.65" y="467.3" font-size="16" font-weight="normal" fill="#000" stroke="#000" stroke-width="0.25" textLength="16.8" lengthAdjust="spacingAndGlyphs">3.01</text>
<text x="452.3" y="467.3" font-size="16" font-weight="normal" fill="#000" stroke="#000" stroke-width="0.25" textLength="16.8" lengthAdjust="spacingAndGlyphs">3.02</text>
<text x="475.95" y="467.3" font-size="16" font-weight="normal" fill="#000" stroke="#000" stroke-width="0.25" textLength="16.8" lengthAdjust="spacingAndGlyphs">3.03</text>
<text x="499.6" y="467.3" font-size="16" font-weight="normal" fill="#000" stroke="#000" stroke-width="0.25" textLength="16.8" lengthAdjust="spacingAndGlyphs">3.04</text>
<text x="387.6" y="435" font-size="16" font-weight="normal" fill="#000" stroke="#000" stroke-width="0.25" textLength="9.6" lengthAdjust="spacingAndGlyphs">54</text>
<text x="387.6" y="414.75" font-size="16" font-weight="normal" fill="#000" stroke="#000" stroke-width="0.25" textLength="9.6" lengthAdjust="spacingAndGlyphs">56</text>
<text x="387.6" y="394.5" font-size="16" font-weight="normal" fill="#000" stroke="#000" stroke-width="0.25" textLength="9.6" lengthAdjust="spacingAndGlyphs">58</text>
<text x="387.6" y="374.25" font-size="16" font-weight="normal" fill="#000" stroke="#000" stroke-width="0.25" textLength="9.6" lengthAdjust="spacingAndGlyphs">60</text>
<text x="387.6" y="354" font-size="16" font-weight="normal" fill="#000" stroke="#000" stroke-width="0.25" textLength="9.6" lengthAdjust="spacingAndGlyphs">62</text>
<text x="432.3" y="488.3" font-size="16" font-weight="normal" fill="#000" stroke="#000" stroke-width="0.25" textLength="45.3" lengthAdjust="spacingAndGlyphs">Time (s) (a1)</text>
<text transform="translate(383,432.7) scale(0.47,1) rotate(-90)" x="0" y="0" font-size="16" font-weight="normal" stroke="#000" stroke-width="0.3" textLength="71.5" lengthAdjust="spacingAndGlyphs">Power&#160;&#160;(W)</text>
<line x1="587.1" y1="445.4" x2="587.1" y2="337.8" stroke="#333" stroke-width="1.3" stroke-dasharray="6.6 6.1" stroke-linecap="butt"/>
<line x1="609.4" y1="445.4" x2="609.4" y2="337.8" stroke="#333" stroke-width="1.3" stroke-dasharray="6.6 6.1" stroke-linecap="butt"/>
<line x1="631.7" y1="445.4" x2="631.7" y2="337.8" stroke="#333" stroke-width="1.3" stroke-dasharray="6.6 6.1" stroke-linecap="butt"/>
<line x1="654" y1="445.4" x2="654" y2="337.8" stroke="#333" stroke-width="1.3" stroke-dasharray="6.6 6.1" stroke-linecap="butt"/>
<line x1="676.3" y1="445.4" x2="676.3" y2="337.8" stroke="#333" stroke-width="1.3" stroke-dasharray="6.6 6.1" stroke-linecap="butt"/>
<line x1="572.7" y1="427.5" x2="678.6" y2="427.5" stroke="#000" stroke-width="2.1" stroke-dasharray="3.2 3.6" stroke-linecap="butt"/>
<line x1="572.7" y1="392.55" x2="678.6" y2="392.55" stroke="#000" stroke-width="2.1" stroke-dasharray="3.2 3.6" stroke-linecap="butt"/>
<line x1="572.7" y1="357.6" x2="678.6" y2="357.6" stroke="#000" stroke-width="2.1" stroke-dasharray="3.2 3.6" stroke-linecap="butt"/>
<polyline points="606.9,439.6 611,432 615,424 619,415 623,406 627,396.5 630,388.5 632.6,385 634.2,380 639.1,368.7 643.9,360.7 648.7,352.7 653.5,347 658.3,344.6 666.4,343.8 678.6,343.8" fill="none" stroke="#f00" stroke-width="1.8" stroke-linejoin="round"/>
<polyline points="587.8,343.5 588.5,355 589.4,371.2 591.9,396.1 593.8,408 595.3,417.7 597.7,426.9 601.1,417.7 605.2,401.1 609.4,384.5 613.5,366.2 616.9,353 620,346.3 623.8,343.6 678.6,343.6" fill="none" stroke="#008000" stroke-width="1.8" stroke-linejoin="round"/>
<polyline points="587.8,343.5 588.2,355 588.6,371.2 590.3,392.8 592.8,404.4 595.3,410.3 598.6,404.4 601.9,387.8 605.2,367.9 607.7,354.6 610.2,346.3 613.5,343.6 678.6,343.4" fill="none" stroke="#000" stroke-width="1.8" stroke-linejoin="round"/>
<polyline points="572.7,342.2 586,342.2 587.7,344.6 590,343 593.3,345.4 595.7,342.2 678.6,342.2" fill="none" stroke="#00f" stroke-width="2.2" stroke-linejoin="round"/>
<rect x="572.7" y="337.8" width="105.9" height="107.6" fill="none" stroke="#000" stroke-width="1.8"/>
<ellipse cx="576.6" cy="346.2" rx="3.5" ry="6.4" fill="#000" stroke="#000" stroke-width="1"/>
<ellipse cx="603.7" cy="438.8" rx="3.3" ry="6.4" fill="#000" stroke="#000" stroke-width="1"/>
<ellipse cx="673.8" cy="344.6" rx="3.5" ry="6.4" fill="#000" stroke="#000" stroke-width="1"/>
<line x1="576.6" y1="351" x2="595.8" y2="432.27" stroke="#000" stroke-width="1.8" stroke-linecap="butt"/>
<polygon points="598.1,442 590.96,431.36 596.44,434.99 599.72,429.29" fill="#000"/>
<line x1="606.9" y1="440.4" x2="663.36" y2="354.52" stroke="#000" stroke-width="1.9" stroke-linecap="butt"/>
<polygon points="668.3,347 666.27,358.83 664.67,352.52 658.25,353.55" fill="#000"/>
<text x="580.4" y="358" font-size="8" font-weight="normal" fill="#222" stroke="#222" stroke-width="0.25" textLength="4.4" lengthAdjust="spacingAndGlyphs">C</text>
<text x="589.3" y="358.5" font-size="8" font-weight="normal" fill="#222" stroke="#222" stroke-width="0.25" textLength="16.8" lengthAdjust="spacingAndGlyphs">(MPP)</text>
<text x="611.8" y="445" font-size="9" font-weight="normal" fill="#222" stroke="#222" stroke-width="0.25" textLength="4.2" lengthAdjust="spacingAndGlyphs">B</text>
<text x="668.8" y="361" font-size="8" font-weight="normal" fill="#222" stroke="#222" stroke-width="0.25" textLength="3.4" lengthAdjust="spacingAndGlyphs">A</text>
<text x="664" y="374.5" font-size="8" font-weight="normal" fill="#222" stroke="#222" stroke-width="0.25" textLength="13.8" lengthAdjust="spacingAndGlyphs">(MPP)</text>
<text x="645.5" y="420.2" font-size="16" font-weight="normal" fill="#222" stroke="#222" stroke-width="0.25" textLength="27.3" lengthAdjust="spacingAndGlyphs">Zoom 2</text>
<text x="584.7" y="465.2" font-size="16" font-weight="normal" fill="#000" stroke="#000" stroke-width="0.25" textLength="4.8" lengthAdjust="spacingAndGlyphs">6</text>
<text x="601" y="465.2" font-size="16" font-weight="normal" fill="#000" stroke="#000" stroke-width="0.25" textLength="16.8" lengthAdjust="spacingAndGlyphs">6.02</text>
<text x="623.3" y="465.2" font-size="16" font-weight="normal" fill="#000" stroke="#000" stroke-width="0.25" textLength="16.8" lengthAdjust="spacingAndGlyphs">6.04</text>
<text x="645.6" y="465.2" font-size="16" font-weight="normal" fill="#000" stroke="#000" stroke-width="0.25" textLength="16.8" lengthAdjust="spacingAndGlyphs">6.06</text>
<text x="667.9" y="465.2" font-size="16" font-weight="normal" fill="#000" stroke="#000" stroke-width="0.25" textLength="16.8" lengthAdjust="spacingAndGlyphs">6.08</text>
<text x="560.5" y="432.9" font-size="16" font-weight="normal" fill="#000" stroke="#000" stroke-width="0.25" textLength="9.6" lengthAdjust="spacingAndGlyphs">50</text>
<text x="560.5" y="397.95" font-size="16" font-weight="normal" fill="#000" stroke="#000" stroke-width="0.25" textLength="9.6" lengthAdjust="spacingAndGlyphs">55</text>
<text x="560.5" y="363" font-size="16" font-weight="normal" fill="#000" stroke="#000" stroke-width="0.25" textLength="9.6" lengthAdjust="spacingAndGlyphs">60</text>
<text x="601.6" y="484.3" font-size="16" font-weight="normal" fill="#000" stroke="#000" stroke-width="0.25" textLength="46.6" lengthAdjust="spacingAndGlyphs">Time (s) (a2)</text>
<text transform="translate(555,429.2) scale(0.47,1) rotate(-90)" x="0" y="0" font-size="16" font-weight="normal" stroke="#000" stroke-width="0.3" textLength="72.7" lengthAdjust="spacingAndGlyphs">Power&#160;&#160;(W)</text>
<line x1="414.7" y1="607.5" x2="414.7" y2="497.7" stroke="#333" stroke-width="1.3" stroke-dasharray="6.6 6.1" stroke-linecap="butt"/>
<line x1="442.17" y1="607.5" x2="442.17" y2="497.7" stroke="#333" stroke-width="1.3" stroke-dasharray="6.6 6.1" stroke-linecap="butt"/>
<line x1="469.63" y1="607.5" x2="469.63" y2="497.7" stroke="#333" stroke-width="1.3" stroke-dasharray="6.6 6.1" stroke-linecap="butt"/>
<line x1="497.1" y1="607.5" x2="497.1" y2="497.7" stroke="#333" stroke-width="1.3" stroke-dasharray="6.6 6.1" stroke-linecap="butt"/>
<line x1="524.57" y1="607.5" x2="524.57" y2="497.7" stroke="#333" stroke-width="1.3" stroke-dasharray="6.6 6.1" stroke-linecap="butt"/>
<line x1="552.03" y1="607.5" x2="552.03" y2="497.7" stroke="#333" stroke-width="1.3" stroke-dasharray="6.6 6.1" stroke-linecap="butt"/>
<line x1="579.5" y1="607.5" x2="579.5" y2="497.7" stroke="#333" stroke-width="1.3" stroke-dasharray="6.6 6.1" stroke-linecap="butt"/>
<line x1="606.97" y1="607.5" x2="606.97" y2="497.7" stroke="#333" stroke-width="1.3" stroke-dasharray="6.6 6.1" stroke-linecap="butt"/>
<line x1="634.43" y1="607.5" x2="634.43" y2="497.7" stroke="#333" stroke-width="1.3" stroke-dasharray="6.6 6.1" stroke-linecap="butt"/>
<line x1="661.9" y1="607.5" x2="661.9" y2="497.7" stroke="#333" stroke-width="1.3" stroke-dasharray="6.6 6.1" stroke-linecap="butt"/>
<line x1="399.6" y1="604.7" x2="678.8" y2="604.7" stroke="#000" stroke-width="2.1" stroke-dasharray="3.2 3.6" stroke-linecap="butt"/>
<line x1="399.6" y1="574.63" x2="678.8" y2="574.63" stroke="#000" stroke-width="2.1" stroke-dasharray="3.2 3.6" stroke-linecap="butt"/>
<line x1="399.6" y1="544.57" x2="678.8" y2="544.57" stroke="#000" stroke-width="2.1" stroke-dasharray="3.2 3.6" stroke-linecap="butt"/>
<line x1="399.6" y1="514.5" x2="678.8" y2="514.5" stroke="#000" stroke-width="2.1" stroke-dasharray="3.2 3.6" stroke-linecap="butt"/>
<polyline points="399.6,509 399.3,507.9 400.8,512.1 402.8,512.1 404.3,507.9 407.3,507.9 408.8,502.2 411.3,502.2 412.8,507.9 416,507.9 417.5,512.1 419.5,512.1 421,507.9 424,507.9 425.5,502.2 428,502.2 429.5,507.9 432.7,507.9 434.2,512.1 436.2,512.1 437.7,507.9 440.7,507.9 442.2,502.2 444.7,502.2 446.2,507.9 444.5,506.4" fill="none" stroke="#008000" stroke-width="1.8" stroke-linejoin="miter"/>
<polyline points="444.5,506.4 446.7,506.4 446.7,508.75 448.9,508.75 448.9,511.11 451.1,511.11 451.1,513.46 453.3,513.46 453.3,515.82 455.5,515.82 455.5,518.17 457.7,518.17 457.7,520.52 459.9,520.52 459.9,522.88 462.1,522.88 462.1,525.23 464.3,525.23 464.3,527.59 466.5,527.59 466.5,529.94 468.7,529.94 468.7,532.29 470.9,532.29 470.9,534.65 473.1,534.65 473.1,537 475.3,537 475.3,539.36 477.5,539.36 477.5,541.71 479.7,541.71 479.7,544.06 481.9,544.06 481.9,546.42 484.1,546.42 484.1,548.77 486.3,548.77 486.3,551.13 488.5,551.13 488.5,553.48 490.7,553.48 490.7,555.83 492.9,555.83 492.9,558.19 495.1,558.19 495.1,560.54 497.3,560.54 497.3,562.9 499.5,562.9 499.5,565.25 501.7,565.25 501.7,567.6 503.9,567.6 503.9,569.96 506.1,569.96 506.1,572.31 508.3,572.31 508.3,574.67 510.5,574.67 510.5,577.02 512.7,577.02 512.7,579.37 514.9,579.37 514.9,581.73 517.1,581.73 517.1,584.08 519.3,584.08 519.3,586.44 521.5,586.44 521.5,588.79 523.7,588.79 523.7,591.14 525.9,591.14 525.9,593.5 528.1,593.5 528.1,595.85 530.3,595.85 530.3,598.21 532.5,598.21 532.5,600.56 533,600.56 533,595" fill="none" stroke="#008000" stroke-width="1.9" stroke-linejoin="miter"/>
<polyline points="533,595 536,603 539,607.5 542,603 546,599 549.2,598.5 553.6,593.4 556.5,596 558,600 560.1,600 562,596 562.3,596 563.8,589.7 568.8,589.7 570.3,596 573.3,596 574.8,601.4 579.3,601.4 580.8,596 584.3,596 585.8,589.7 590.8,589.7 592.3,596 595.3,596 596.8,601.4 601.3,601.4 602.8,596 606.3,596 607.8,589.7 612.8,589.7 614.3,596 617.3,596 618.8,601.4 623.3,601.4 624.8,596 628.3,596 629.8,589.7 634.8,589.7 636.3,596 639.3,596 640.8,601.4 645.3,601.4 646.8,596 650.3,596 651.8,589.7 656.8,589.7 658.3,596 661.3,596 662.8,601.4 667.3,601.4 668.8,596 672.3,596 673.8,589.7 678.8,589.7" fill="none" stroke="#008000" stroke-width="1.8" stroke-linejoin="miter"/>
<polyline points="445.4,506.8 454.9,514 468.2,519.7 483.4,528.2 500.5,537.7 515.7,545.3 520,547 531.8,553 543.7,558.9 555.5,564.8 567.3,570.7 579.1,576.6 591,581.3 602.8,586.1 614.6,589.6 626.4,592 638.3,593.2 652.5,593.2 656,593.9" fill="none" stroke="#f00" stroke-width="1.9" stroke-linejoin="round"/>
<polyline points="445.4,508.3 448.04,508.3 448.04,512.09 450.69,512.09 450.69,515.88 453.33,515.88 453.33,519.67 455.98,519.67 455.98,523.46 458.62,523.46 458.62,527.24 461.27,527.24 461.27,531.03 463.91,531.03 463.91,534.82 466.56,534.82 466.56,538.61 469.2,538.61 469.2,542.4 472.04,542.4 472.04,546.58 474.88,546.58 474.88,550.76 477.72,550.76 477.72,554.94 480.56,554.94 480.56,559.12 483.4,559.12 483.4,563.3 486.06,563.3 486.06,567.48 488.72,567.48 488.72,571.66 491.38,571.66 491.38,575.84 494.04,575.84 494.04,580.02 496.7,580.02 496.7,584.2 500.5,584.2 500.5,590.85 504.3,590.85 504.3,597.5 507.15,597.5 507.15,600.35 510,600.35 510,603.2 512.85,603.2 512.85,603.95 515.7,603.95 515.7,604.7 518.55,604.7 518.55,603.95 521.4,603.95 521.4,603.2 524.7,603.2 524.7,601.1 528,601.1 528,599 531.8,599 531.8,597.5 534.77,597.5 534.77,597 537.75,597 537.75,596.5 540.73,596.5 540.73,596 543.7,596 543.7,595.5" fill="none" stroke="#000" stroke-width="1.8" stroke-linejoin="miter"/>
<polyline points="399.6,507.9 444.5,507.9 444.5,507.9 444.5,507.9 444.5,582.3 447.7,582.3 447.7,588 450.2,588 450.2,584.2 453,584.2 453,579.5 457.8,579.5 457.8,579.5 460.6,579.5 460.6,584.2 463,584.2 463,589.9 466,589.9 466,594 469.2,594 469.2,598.4 473,598.4 473,600.3 477.7,600.3 477.7,598.4 482.5,598.4 482.5,597.5 487.2,597.5 487.2,595.5 504.3,595.5 504.3,595.5 511.9,595.5 511.9,596.5 519.5,596.5 519.5,595.6 528,595.6 528,595.5 678.8,595.5 678.8,595.5" fill="none" stroke="#00f" stroke-width="2.2" stroke-linejoin="miter"/>
<rect x="399.6" y="497.7" width="279.2" height="109.8" fill="none" stroke="#000" stroke-width="1.8"/>
<text x="634.2" y="534.2" font-size="16" font-weight="normal" fill="#222" stroke="#222" stroke-width="0.25" textLength="26.8" lengthAdjust="spacingAndGlyphs">Zoom 4</text>
<text x="406.3" y="625.4" font-size="16" font-weight="normal" fill="#000" stroke="#000" stroke-width="0.25" textLength="16.8" lengthAdjust="spacingAndGlyphs">5.99</text>
<text x="439.77" y="625.4" font-size="16" font-weight="normal" fill="#000" stroke="#000" stroke-width="0.25" textLength="4.8" lengthAdjust="spacingAndGlyphs">6</text>
<text x="461.23" y="625.4" font-size="16" font-weight="normal" fill="#000" stroke="#000" stroke-width="0.25" textLength="16.8" lengthAdjust="spacingAndGlyphs">6.01</text>
<text x="488.7" y="625.4" font-size="16" font-weight="normal" fill="#000" stroke="#000" stroke-width="0.25" textLength="16.8" lengthAdjust="spacingAndGlyphs">6.02</text>
<text x="516.17" y="625.4" font-size="16" font-weight="normal" fill="#000" stroke="#000" stroke-width="0.25" textLength="16.8" lengthAdjust="spacingAndGlyphs">6.03</text>
<text x="543.63" y="625.4" font-size="16" font-weight="normal" fill="#000" stroke="#000" stroke-width="0.25" textLength="16.8" lengthAdjust="spacingAndGlyphs">6.04</text>
<text x="571.1" y="625.4" font-size="16" font-weight="normal" fill="#000" stroke="#000" stroke-width="0.25" textLength="16.8" lengthAdjust="spacingAndGlyphs">6.05</text>
<text x="598.57" y="625.4" font-size="16" font-weight="normal" fill="#000" stroke="#000" stroke-width="0.25" textLength="16.8" lengthAdjust="spacingAndGlyphs">6.06</text>
<text x="626.03" y="625.4" font-size="16" font-weight="normal" fill="#000" stroke="#000" stroke-width="0.25" textLength="16.8" lengthAdjust="spacingAndGlyphs">6.07</text>
<text x="653.5" y="625.4" font-size="16" font-weight="normal" fill="#000" stroke="#000" stroke-width="0.25" textLength="16.8" lengthAdjust="spacingAndGlyphs">6.08</text>
<text x="380.2" y="610.1" font-size="16" font-weight="normal" fill="#000" stroke="#000" stroke-width="0.25" textLength="16.8" lengthAdjust="spacingAndGlyphs">0.46</text>
<text x="380.2" y="580.03" font-size="16" font-weight="normal" fill="#000" stroke="#000" stroke-width="0.25" textLength="16.8" lengthAdjust="spacingAndGlyphs">0.48</text>
<text x="385" y="549.97" font-size="16" font-weight="normal" fill="#000" stroke="#000" stroke-width="0.25" textLength="12" lengthAdjust="spacingAndGlyphs">0.5</text>
<text x="380.2" y="519.9" font-size="16" font-weight="normal" fill="#000" stroke="#000" stroke-width="0.25" textLength="16.8" lengthAdjust="spacingAndGlyphs">0.52</text>
<text x="515" y="647.5" font-size="16" font-weight="normal" fill="#000" stroke="#000" stroke-width="0.25" textLength="46.7" lengthAdjust="spacingAndGlyphs">Time (s) (c2)</text>
<text transform="translate(374.5,590) scale(0.47,1) rotate(-90)" x="0" y="0" font-size="16" font-weight="normal" stroke="#000" stroke-width="0.3" textLength="73.3" lengthAdjust="spacingAndGlyphs">Duty&#160;Cycle</text>
</svg></body></html>
